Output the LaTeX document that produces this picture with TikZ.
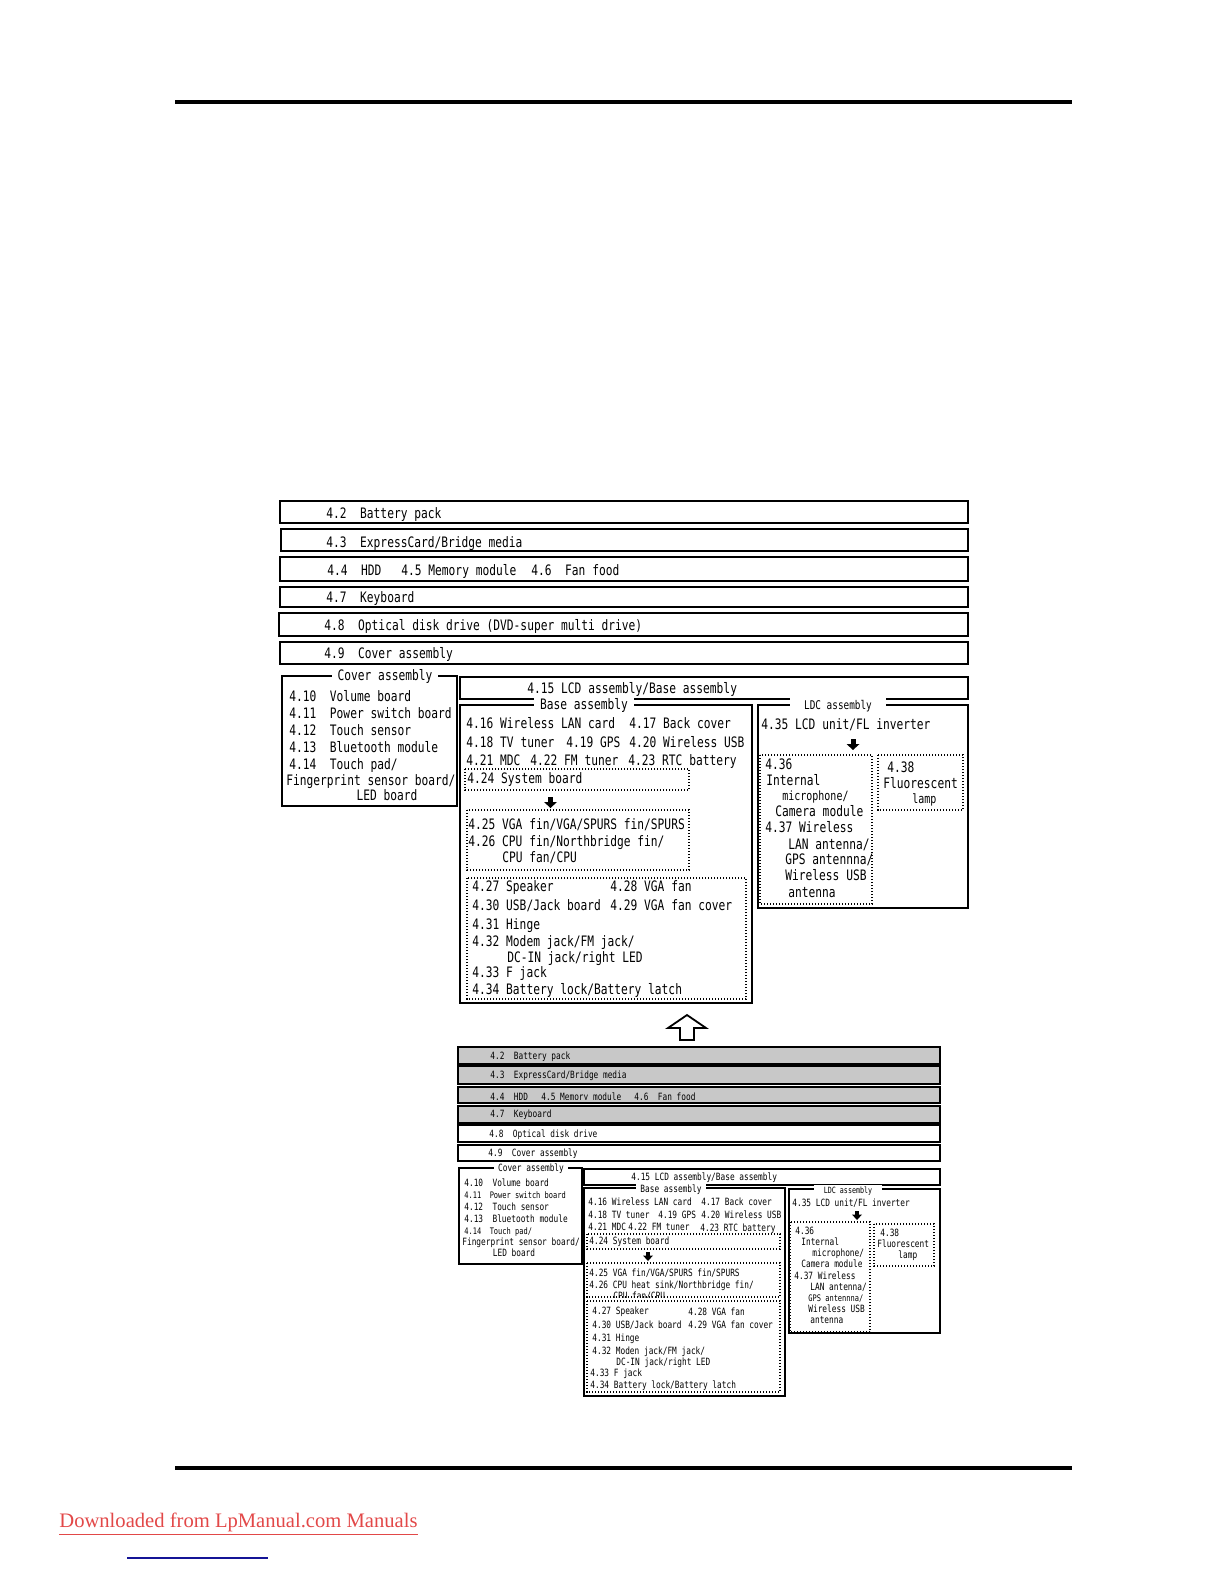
\documentclass[tikz,border=0pt]{standalone}
\usepackage{fontspec}
\usetikzlibrary{calc}
\newfontfamily\jp[FakeStretch=0.78]{DejaVu Sans Mono}
\newfontfamily\tnr{Liberation Serif}
\definecolor{dlred}{RGB}{226,72,72}
\definecolor{dlblue}{RGB}{20,20,150}
\definecolor{rowgray}{RGB}{200,200,200}
\begin{document}
\begin{tikzpicture}[x=0.5pt,y=-0.5pt,
  rule/.style={line width=2pt},
  box/.style={draw, line width=0.7pt},
  dbox/.style={draw, line width=0.6pt, dash pattern=on 0.7pt off 0.8pt},
  gbox/.style={draw, line width=0.7pt, fill=rowgray},
  ta/.style={anchor=west, inner sep=0pt, text height=5.2pt, text depth=0pt, font=\jp\fontsize{7.2}{8}\selectfont},
  tas/.style={ta, font=\jp\fontsize{6.4}{7}\selectfont, text height=4.6pt},
  tat/.style={ta, anchor=center, fill=white, inner xsep=3pt, inner ysep=1pt},
  tb/.style={anchor=west, inner sep=0pt, text height=3.6pt, text depth=0pt, font=\jp\fontsize{5}{6}\selectfont},
  tbs/.style={tb, font=\jp\fontsize{4.5}{5}\selectfont, text height=3.2pt},
  tbt/.style={tb, anchor=center, fill=white, inner xsep=2pt, inner ysep=0.8pt}]

% page rules
\draw[rule] (175,102) -- (1072,102);
\draw[rule] (175,1468) -- (1072,1468);

% ================= upper diagram =================
\draw[box] (280,501) rectangle (968,523);
\draw[box] (281,529) rectangle (968,551);
\draw[box] (280,557) rectangle (968,581);
\draw[box] (280,587) rectangle (968,607);
\draw[box] (279,613) rectangle (968,636);
\draw[box] (280,642) rectangle (968,664);
\node[ta] (u42) at (326,513) {4.2~~Battery pack};
\node[ta] (u43) at (326,542) {4.3~~ExpressCard/Bridge media};
\node[ta] (u44) at (327,570) {4.4~~HDD};
\node[ta] (u45) at (401,570) {4.5 Memory module};
\node[ta] (u46) at (531,570) {4.6~~Fan food};
\node[ta] (u47) at (326,597) {4.7~~Keyboard};
\node[ta] (u48) at (324,625) {4.8~~Optical disk drive (DVD-super multi drive)};
\node[ta] (u49) at (324,653) {4.9~~Cover assembly};

% Cover assembly
\draw[box] (282,676) rectangle (457,806);
\node[tat] (ucov) at (385,675) {Cover assembly};
\node[ta] (u410) at (289,696) {4.10~~Volume board};
\node[ta] (u411) at (289,713) {4.11~~Power switch board};
\node[ta] (u412) at (289,730) {4.12~~Touch sensor};
\node[ta] (u413) at (289,747) {4.13~~Bluetooth module};
\node[ta] (u414) at (289,764) {4.14~~Touch pad/};
\node[ta] (u414b) at (286,780) {Fingerprint sensor board/};
\node[ta, anchor=center] (u414c) at (387,795) {LED board};

% LCD assembly / Base assembly
\draw[box] (460,677) rectangle (968,699);
\node[ta] (u415) at (527,688) {4.15 LCD assembly/Base assembly};

% Base assembly
\draw[box] (460,705) rectangle (752,1003);
\node[tat] (ubase) at (584,704) {Base assembly};
\node[ta] (u416) at (466,723) {4.16 Wireless LAN card};
\node[ta] (u417) at (629,723) {4.17 Back cover};
\node[ta] (u418) at (466,742) {4.18 TV tuner};
\node[ta] (u419) at (566,742) {4.19 GPS};
\node[ta] (u420) at (629,742) {4.20 Wireless USB};
\node[ta] (u421) at (466,760) {4.21 MDC};
\node[ta] (u422) at (530,760) {4.22 FM tuner};
\node[ta] (u423) at (628,760) {4.23 RTC battery};
\draw[dbox] (465,769) rectangle (689,790);
\node[ta] (u424) at (467,778) {4.24 System board};
\fill (548,797) rectangle (553,803);
\fill (544,802) -- (557,802) -- (550.5,808) -- cycle;
\draw[dbox] (467,810) rectangle (689,870);
\node[ta] (u425) at (468,824) {4.25 VGA fin/VGA/SPURS fin/SPURS};
\node[ta] (u426) at (468,841) {4.26 CPU fin/Northbridge fin/};
\node[ta] (u426b) at (502,857) {CPU fan/CPU};
\draw[dbox] (467,878) rectangle (746,999);
\node[ta] (u427) at (472,886) {4.27 Speaker};
\node[ta] (u428) at (610,886) {4.28 VGA fan};
\node[ta] (u430) at (472,905) {4.30 USB/Jack board};
\node[ta] (u429) at (610,905) {4.29 VGA fan cover};
\node[ta] (u431) at (472,924) {4.31 Hinge};
\node[ta] (u432) at (472,941) {4.32 Modem jack/FM jack/};
\node[ta] (u432b) at (507,957) {DC-IN jack/right LED};
\node[ta] (u433) at (472,972) {4.33 F jack};
\node[ta] (u434) at (472,989) {4.34 Battery lock/Battery latch};

% LDC assembly
\draw[box] (758,705) rectangle (968,908);
\node[tat, font=\jp\fontsize{6}{7}\selectfont, inner xsep=7pt] (uldc) at (838,704) {LDC assembly};
\node[ta] (u435) at (761,724) {4.35 LCD unit/FL inverter};
\fill (850.5,739) rectangle (855.5,745);
\fill (846.5,744) -- (859.5,744) -- (853,750) -- cycle;
\draw[dbox] (760,755) rectangle (872,904);
\node[ta] (u436) at (765,764) {4.36};
\node[ta] (u436b) at (766,780) {Internal};
\node[tas] (u436c) at (782,796) {microphone/};
\node[ta] (u436d) at (775,811) {Camera module};
\node[ta] (u437) at (765,827) {4.37 Wireless};
\node[ta] (u437b) at (788,844) {LAN antenna/};
\node[ta] (u437c) at (785,859) {GPS antennna/};
\node[ta] (u437d) at (785,875) {Wireless USB};
\node[ta] (u437e) at (788,892) {antenna};
\draw[dbox] (878,755) rectangle (963,810);
\node[ta] (u438) at (887,767) {4.38};
\node[ta] (u438b) at (883,783) {Fluorescent};
\node[tas] (u438c) at (912,799) {lamp};

% big hollow arrow
\draw[line width=0.9pt, fill=white] (687,1015) -- (706,1028) -- (694,1028) -- (694,1040)
  -- (680,1040) -- (680,1028) -- (668,1028) -- cycle;

% ================= lower diagram =================
\draw[gbox] (458,1047) rectangle (940,1064);
\draw[gbox] (458,1066) rectangle (940,1084);
\node[tb] (l42) at (490,1056) {4.2~~Battery pack};
\node[tb] (l43) at (490,1075) {4.3~~ExpressCard/Bridge media};
\fill[rowgray] (459,1087) rectangle (939,1103);
\node[tb] (l44) at (490,1097) {4.4~~HDD};
\node[tb] (l45) at (541,1097) {4.5 Memory module};
\node[tb] (l46) at (634,1097) {4.6~~Fan food};
\fill[rowgray] (459,1100) rectangle (939,1103);
\draw[box] (458,1087) rectangle (940,1103);
\draw[gbox] (458,1106) rectangle (940,1123);
\node[tb] (l47) at (490,1114) {4.7~~Keyboard};
\draw[box] (458,1125) rectangle (940,1142);
\node[tb] (l48) at (489,1134) {4.8~~Optical disk drive};
\draw[box] (458,1145) rectangle (940,1161);
\node[tb] (l49) at (488,1153) {4.9~~Cover assembly};

% Cover assembly
\draw[box] (459,1168) rectangle (582,1264);
\node[tbt] (lcov) at (531,1168) {Cover assembly};
\node[tb] (l410) at (464,1183) {4.10~~Volume board};
\node[tbs] (l411) at (464,1195) {4.11~~Power switch board};
\node[tb] (l412) at (464,1207) {4.12~~Touch sensor};
\node[tb] (l413) at (464,1219) {4.13~~Bluetooth module};
\node[tbs] (l414) at (464,1231) {4.14~~Touch pad/};
\node[tb] (l414b) at (462,1242) {Fingerprint sensor board/};
\node[tb, anchor=center] (l414c) at (514,1253) {LED board};

% LCD/Base
\draw[box] (584,1169) rectangle (940,1185);
\node[tb] (l415) at (631,1177) {4.15 LCD assembly/Base assembly};

% Base assembly
\draw[box] (584,1188) rectangle (785,1396);
\node[tbt] (lbase) at (671,1189) {Base assembly};
\node[tb] (l416) at (588,1202) {4.16 Wireless LAN card};
\node[tb] (l417) at (701,1202) {4.17 Back cover};
\node[tb] (l418) at (588,1215) {4.18 TV tuner};
\node[tb] (l419) at (658,1215) {4.19 GPS};
\node[tb] (l420) at (701,1215) {4.20 Wireless USB};
\node[tb] (l421) at (588,1227) {4.21 MDC};
\node[tb] (l422) at (628,1227) {4.22 FM tuner};
\node[tb] (l423) at (700,1228) {4.23 RTC battery};
\draw[dbox] (587,1234) rectangle (780,1249);
\node[tb] (l424) at (589,1241) {4.24 System board};
\fill (646,1252) rectangle (650,1256);
\fill (643,1255.5) -- (653,1255.5) -- (648,1261) -- cycle;
\draw[dbox] (587,1263) rectangle (780,1297);
\node[tb] (l425) at (589,1273) {4.25 VGA fin/VGA/SPURS fin/SPURS};
\node[tb] (l426) at (589,1285) {4.26 CPU heat sink/Northbridge fin/};
\node[tb] (l426b) at (613,1296) {CPU fan/CPU};
\fill[white] (600,1298) rectangle (700,1300);
\draw[dbox] (587,1301) rectangle (780,1392);
\node[tb] (l427) at (592,1311) {4.27 Speaker};
\node[tb] (l428) at (688,1312) {4.28 VGA fan};
\node[tb] (l430) at (592,1325) {4.30 USB/Jack board};
\node[tb] (l429) at (688,1325) {4.29 VGA fan cover};
\node[tb] (l431) at (592,1338) {4.31 Hinge};
\node[tb] (l432) at (592,1351) {4.32 Moden jack/FM jack/};
\node[tb] (l432b) at (616,1362) {DC-IN jack/right LED};
\node[tb] (l433) at (590,1373) {4.33 F jack};
\node[tb] (l434) at (590,1385) {4.34 Battery lock/Battery latch};

% LDC assembly
\draw[box] (789,1189) rectangle (940,1333);
\node[tbt, font=\jp\fontsize{4.3}{5}\selectfont, inner xsep=5pt] (lldc) at (848,1190) {LDC assembly};
\node[tb] (l435) at (792,1203) {4.35 LCD unit/FL inverter};
\fill (855,1211) rectangle (859,1215);
\fill (852,1214.5) -- (862,1214.5) -- (857,1220) -- cycle;
\draw[dbox] (790,1222) rectangle (870,1332);
\node[tb] (l436) at (795,1231) {4.36};
\node[tb] (l436b) at (801,1242) {Internal};
\node[tb] (l436c) at (812,1253) {microphone/};
\node[tb] (l436d) at (801,1264) {Camera module};
\node[tb] (l437) at (794,1276) {4.37 Wireless};
\node[tb] (l437b) at (810,1287) {LAN antenna/};
\node[tbs] (l437c) at (808,1298) {GPS antennna/};
\node[tb] (l437d) at (808,1309) {Wireless USB};
\node[tb] (l437e) at (810,1320) {antenna};
\draw[dbox] (874,1224) rectangle (934,1266);
\node[tb] (l438) at (880,1233) {4.38};
\node[tb] (l438b) at (877,1244) {Fluorescent};
\node[tb] (l438c) at (898,1255) {lamp};

% footer
\node[anchor=west, inner sep=0pt, text=dlred, font=\tnr\fontsize{10.3}{12}\selectfont] (dl) at (59,1522) {Downloaded from LpManual.com Manuals};
\draw[dlred, line width=0.6pt] ($(dl.south west)+(0,3)$) -- ($(dl.south east)+(0,3)$);
\draw[dlblue, line width=0.6pt] (127,1558) -- (268,1558);

\pgfresetboundingbox
\path[use as bounding box] (0,0) rectangle (1224,1584);
\end{tikzpicture}
\end{document}
